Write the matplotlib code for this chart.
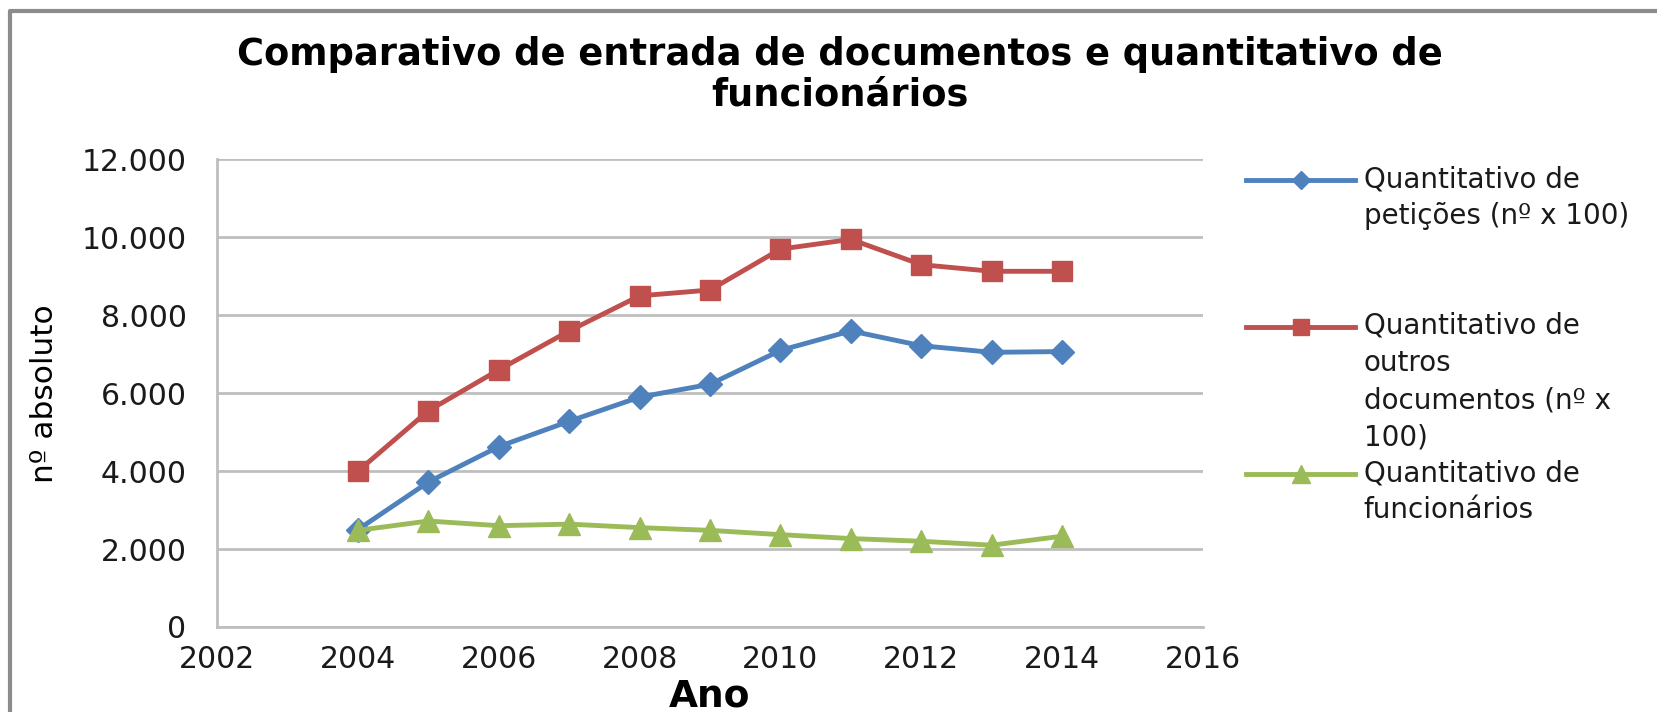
import matplotlib.pyplot as plt
from matplotlib.lines import Line2D
from matplotlib.ticker import FuncFormatter

anos = [2004, 2005, 2006, 2007, 2008, 2009, 2010, 2011, 2012, 2013, 2014]
peticoes = [2500, 3720, 4630, 5280, 5900, 6230, 7100, 7600, 7220, 7050, 7070]
outros_docs = [4000, 5550, 6600, 7600, 8500, 8650, 9700, 9950, 9300, 9130, 9130]
funcionarios = [2480, 2720, 2600, 2640, 2550, 2480, 2370, 2270, 2200, 2100, 2330]

labels = [
    "Quantitativo de\npetições (nº x 100)",
    "Quantitativo de\noutros\ndocumentos (nº x\n100)",
    "Quantitativo de\nfuncionários",
]
colors = ["#4F81BD", "#C0504D", "#9BBB59"]
markers = ["D", "s", "^"]
marker_sizes = [12, 15, 16]

plt.rcParams["font.family"] = ["DejaVu Sans"]

fig = plt.figure(figsize=(16.57, 7.12), dpi=100)
ax = fig.add_axes([0.131, 0.1194, 0.595, 0.6566])

series = [peticoes, outros_docs, funcionarios]
for vals, c, m, ms in zip(series, colors, markers, marker_sizes):
    ax.plot(anos, vals, color=c, linewidth=3.5, marker=m, markersize=ms,
            markeredgecolor=c, zorder=3)

ax.set_xlim(2002, 2016)
ax.set_ylim(0, 12000)
ax.set_xticks(range(2002, 2017, 2))
ax.set_yticks(range(0, 12001, 2000))
ax.yaxis.set_major_formatter(FuncFormatter(lambda v, p: f"{int(v):,}".replace(",", ".")))
ax.grid(axis="y", color="#BEBEBE", linewidth=2)
ax.set_axisbelow(True)
for side in ["top", "right"]:
    ax.spines[side].set_visible(False)
for side in ["left", "bottom"]:
    ax.spines[side].set_color("#BEBEBE")
    ax.spines[side].set_linewidth(2)
ax.tick_params(axis="y", length=0, pad=22, labelsize=21.5, labelcolor="#1a1a1a")
ax.tick_params(axis="x", length=0, pad=13, labelsize=21.5, labelcolor="#1a1a1a")

ax.set_xlabel("Ano", fontsize=27, fontweight="bold", labelpad=3)
ax.set_ylabel("nº absoluto", fontsize=22.5, labelpad=16)

fig.text(0.507, 0.95, "Comparativo de entrada de documentos e quantitativo de\nfuncionários",
         ha="center", va="top", fontsize=26.5, fontweight="bold", linespacing=1.15)

# legend drawn by hand so the marker sits on the first line of each label
leg_tops = [0.768, 0.562, 0.355]
for lab, c, m, ms, top in zip(labels, colors, markers, marker_sizes, leg_tops):
    fig.add_artist(Line2D([0.752, 0.818], [top - 0.021, top - 0.021], transform=fig.transFigure,
                          color=c, linewidth=3.5))
    fig.add_artist(Line2D([0.785], [top - 0.021], transform=fig.transFigure,
                          color=c, marker=m, markersize=ms * 0.8, linestyle="none"))
    fig.text(0.823, top, lab, ha="left", va="top", fontsize=20, linespacing=1.42,
             color="#1a1a1a")

# outer chart frame
fig.add_artist(Line2D([0.006, 0.006, 1.0], [0.0, 0.985, 0.985], transform=fig.transFigure,
                      color="#8C8C8C", linewidth=3))

fig.savefig("out.png", dpi=100)
